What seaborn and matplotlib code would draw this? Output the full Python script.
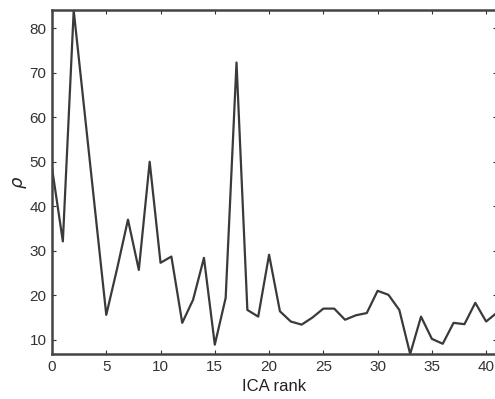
import numpy as np
import pandas as pd
import matplotlib
matplotlib.use("Agg")
import matplotlib.pyplot as plt
import seaborn as sns

# values
rank = list(range(42))
rho = [48.6, 32.1, 84.0, 61.2, 38.4, 15.6, 26.0, 37.0, 25.7, 50.0,
       27.3, 28.7, 13.8, 19.0, 28.4, 8.9, 19.4, 72.3, 16.7, 15.2,
       29.1, 16.4, 14.1, 13.4, 15.0, 17.0, 17.0, 14.5, 15.5, 16.0,
       21.0, 20.1, 16.7, 6.8, 15.2, 10.2, 9.1, 13.8, 13.5, 18.3,
       14.1, 16.1]
x_ticks = [0, 5, 10, 15, 20, 25, 30, 35, 40]
y_ticks = [10, 20, 30, 40, 50, 60, 70, 80]

sns.set_style("ticks")
plt.rcParams['font.family'] = ['Liberation Sans', 'DejaVu Sans']
plt.rcParams['mathtext.fontset'] = 'dejavusans'

df = pd.DataFrame({'rank': rank, 'rho': rho})

fig = plt.figure(figsize=(4.95, 3.99), dpi=100)
ax = fig.add_axes([52 / 495, 1 - 354 / 399, 445 / 495, 344 / 399])

sns.lineplot(data=df, x='rank', y='rho', ax=ax, color='#3a3a3a', linewidth=1.6)

ax.set_xlim(0, 41)
ax.set_ylim(6.8, 84.1)
ax.set_xticks(x_ticks)
ax.set_yticks(y_ticks)
ax.tick_params(direction='in', length=3, width=0.8, top=True, right=True,
               labelsize=11, colors='#333333', pad=4)
for side in ax.spines.values():
    side.set_linewidth(1.8)
    side.set_color('#444444')

ax.set_xlabel('ICA rank', fontsize=12, color='#222222', labelpad=4)
ax.set_ylabel(r'$\rho$', fontsize=13, color='#222222', labelpad=0)

fig.savefig('out.png', dpi=100)
